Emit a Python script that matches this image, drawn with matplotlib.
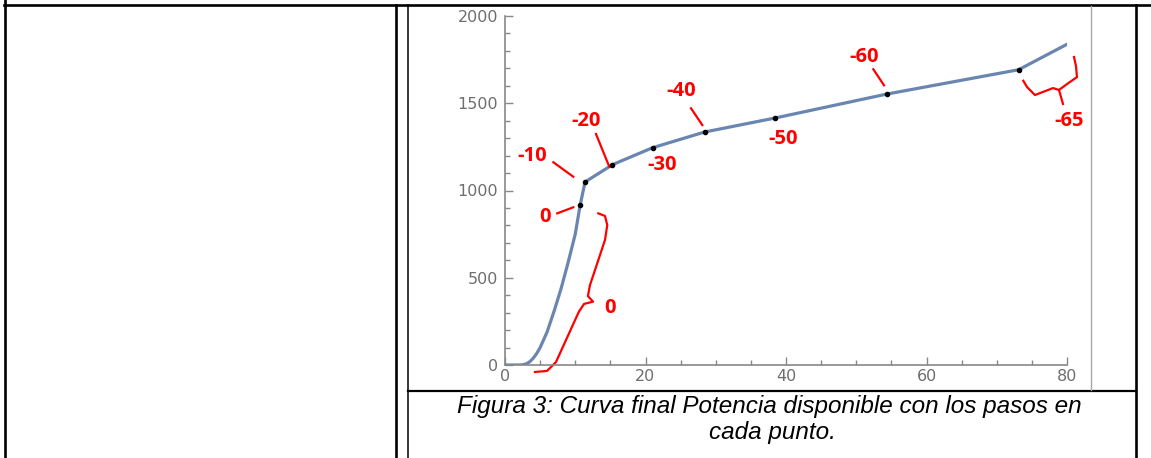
import numpy as np
import matplotlib.pyplot as plt
from matplotlib.lines import Line2D

W, H = 1151, 458

# curva de potencia disponible
potencia_x = [0, 2, 2.5, 3, 3.5, 4, 4.5, 5, 6, 7, 8, 9, 10, 10.7, 11.4, 15.3, 21.0, 28.4, 38.4, 54.4, 73.1, 80.0]
potencia_y = [0, 0, 1, 6, 18, 38, 65, 100, 190, 310, 440, 590, 750, 917, 1049, 1148, 1245, 1335, 1415, 1553, 1692, 1838]

# puntos marcados (pasos)
pasos_x = [10.7, 11.4, 15.3, 21.0, 28.4, 38.4, 54.4, 73.1]
pasos_y = [917, 1049, 1148, 1245, 1335, 1415, 1553, 1692]

# etiquetas rojas
etiquetas = ['0', '-10', '-20', '-30', '-40', '-50', '-60', '-65', '0']
etiq_x = [5.69, 3.80, 11.49, 22.31, 25.05, 39.53, 51.10, 80.28, 14.95]
etiq_y = [846, 1198, 1400, 1146, 1570, 1293, 1767, 1400, 325]

# lineas guia (x0, y0, x1, y1)
guias = [
    (7.44, 869, 9.72, 904),
    (6.88, 1162, 9.72, 1079),
    (12.95, 1324, 14.85, 1136),
    (26.48, 1471, 28.09, 1375),
    (52.43, 1695, 53.95, 1603),
    (78.86, 1576, 79.43, 1496),
]

# llaves
llave1_x = [13.28, 14.23, 14.56, 14.23, 12.1, 11.8, 12.53, 11.25, 10.5, 7.26, 5.98, 4.27]
llave1_y = [869, 854, 802, 716, 458, 395, 363, 350, 304, 17, -34, -40]
llave2_x = [73.78, 74.31, 75.44, 78.01, 78.86, 80.0, 81.42, 81.28, 81.0]
llave2_y = [1629, 1593, 1547, 1587, 1576, 1610, 1650, 1713, 1765]

fig = plt.figure(figsize=(W / 100, H / 100), dpi=100)

ax = fig.add_axes([505 / W, 1 - 365 / H, 562 / W, 349 / H])
ax.plot(potencia_x, potencia_y, color='#6a86b0', lw=2.3, solid_capstyle='round', zorder=2)
ax.scatter(pasos_x, pasos_y, s=9, color='black', zorder=3)

rojo = '#ff0000'
for t, x, y in zip(etiquetas, etiq_x, etiq_y):
    ax.text(x, y, t, color=rojo, fontsize=14.5, fontweight='bold', family='Open Sans',
            ha='center', va='center', clip_on=False)
for x0, y0, x1, y1 in guias:
    ax.plot([x0, x1], [y0, y1], color=rojo, lw=1.6, clip_on=False)
ax.plot(llave1_x, llave1_y, color=rojo, lw=1.6, clip_on=False)
ax.plot(llave2_x, llave2_y, color=rojo, lw=1.6, clip_on=False)

ax.set_xlim(0, 80)
ax.set_ylim(0, 2000)
gris = '#888888'
for s in ['top', 'right']:
    ax.spines[s].set_visible(False)
for s in ['left', 'bottom']:
    ax.spines[s].set_color(gris)
    ax.spines[s].set_linewidth(1.2)
ax.set_xticks([0, 20, 40, 60, 80])
ax.set_xticks(np.arange(0, 81, 5), minor=True)
ax.set_yticks([0, 500, 1000, 1500, 2000])
ax.set_yticks(np.arange(0, 2001, 100), minor=True)
ax.tick_params(which='both', direction='in', color=gris, labelcolor='#6e6e6e', labelsize=11.5)
ax.tick_params(which='major', length=6, width=1)
ax.tick_params(which='minor', length=3.5, width=1)
ax.tick_params(axis='x', pad=3)
ax.tick_params(axis='y', pad=5)
ax.set_facecolor('none')

# bordes de la tabla
def linea(x0, y0, x1, y1, lw, color='black'):
    fig.add_artist(Line2D([x0 / W, x1 / W], [1 - y0 / H, 1 - y1 / H], color=color, lw=lw,
                          transform=fig.transFigure))

linea(5.3, 0, 5.3, H, 1.9)
linea(4, 5.3, W, 5.3, 1.9)
linea(395.5, 5, 395.5, H, 1.9)
linea(408, 5, 408, H, 1.1)
linea(1135.5, 5, 1135.5, H, 1.9)
linea(408, 390.8, 1136, 390.8, 1.6)
linea(1090.8, 6, 1090.8, 390, 1.0, '#a8a8a8')

fig.text(769 / W, 1 - 413 / H, 'Figura 3: Curva final Potencia disponible con los pasos en',
         ha='center', va='baseline', fontsize=17.5, style='italic', family='Liberation Sans')
fig.text(772 / W, 1 - 439 / H, 'cada punto.',
         ha='center', va='baseline', fontsize=17.5, style='italic', family='Liberation Sans')

fig.savefig('out.png', dpi=100)
